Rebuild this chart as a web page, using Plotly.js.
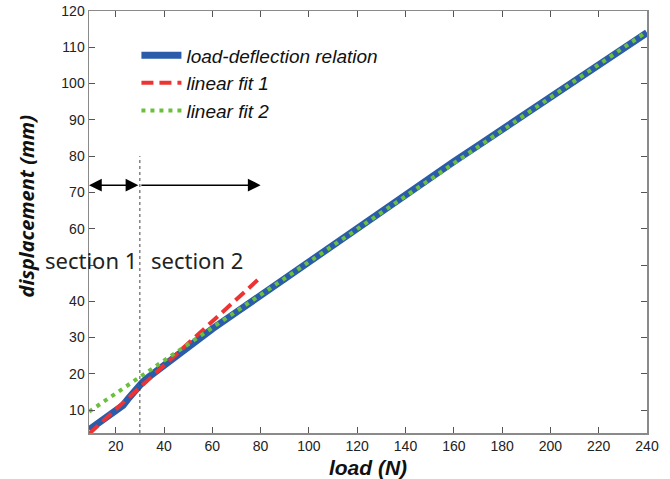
<!DOCTYPE html>
<html>
<head>
<meta charset="utf-8">
<script src="https://cdn.plot.ly/plotly-3.0.1.min.js"></script>
<style>html,body{margin:0;padding:0;background:#fff;}#chart{width:670px;height:479px;}</style>
</head>
<body>
<div id="chart"></div>
<script>
// measured load-deflection data
const loadN = [9, 12, 15, 18, 21, 23, 25, 27, 29, 31, 33, 35, 40, 45, 50, 55, 60, 70, 80, 90, 100, 110, 120, 130, 140, 150, 160, 170, 180, 190, 200, 210, 220, 230, 240];
const dispMM = [4.6, 6.0, 7.3, 8.6, 10.0, 11.3, 13.0, 14.8, 16.3, 17.6, 18.8, 19.8, 22.5, 25.0, 27.6, 30.0, 32.4, 37.0, 41.6, 46.3, 51.2, 55.9, 60.5, 65.0, 69.5, 74.0, 78.5, 82.9, 87.3, 91.7, 96.1, 100.5, 105.0, 109.5, 114.0];
// linear fit 1 (section 1)
const fit1X = [9, 80];
const fit1Y = [3.5, 46.6];
// linear fit 2 (section 2)
const fit2X = [9, 240];
const fit2Y = [9.6, 114.3];
// section boundary & arrow positions
const boundaryX = 30;
const boundaryTop = 80;
const arrowY = 72;
const arrowEnd = 80;
const xTicks = [20, 40, 60, 80, 100, 120, 140, 160, 180, 200, 220, 240];
const yTicks = [10, 20, 30, 40, 50, 60, 70, 80, 90, 100, 110, 120];
// the "50" label is covered by the "section 1" text in the original
const yTickText = ['10', '20', '30', '40', '', '60', '70', '80', '90', '100', '110', '120'];
const xRange = [8.94, 240];
const yRange = [3.7, 120];

const traces = [
  {x: loadN, y: dispMM, mode: 'lines', name: 'load-deflection relation',
   line: {color: '#2a5caa', width: 7}},
  {x: fit1X, y: fit1Y, mode: 'lines', name: 'linear fit 1',
   line: {color: '#ee3333', width: 4, dash: '12px,6px'}},
  {x: fit2X, y: fit2Y, mode: 'lines', name: 'linear fit 2',
   line: {color: '#6abf3c', width: 4, dash: '4px,5px'}}
];

const axisCommon = {
  showgrid: false, zeroline: false, showline: true, linecolor: '#8a8a8a', linewidth: 1.5,
  mirror: 'ticks', ticks: 'inside', ticklen: 6, tickcolor: '#555', tickwidth: 1,
  tickfont: {family: 'Liberation Sans, Arial, sans-serif', size: 14, color: '#222'}
};

const layout = {
  width: 670, height: 479,
  margin: {l: 89, r: 23, t: 11, b: 46},
  paper_bgcolor: '#fff', plot_bgcolor: '#fff',
  showlegend: true,
  legend: {x: 0.085, y: 0.94, xanchor: 'left', yanchor: 'top', bgcolor: 'rgba(0,0,0,0)',
           font: {family: 'Liberation Sans, Arial, sans-serif', size: 19, color: '#111', style: 'italic'},
           tracegroupgap: 0, itemwidth: 40},
  xaxis: Object.assign({}, axisCommon, {range: xRange, tickvals: xTicks,
    title: {text: '<b><i>load (N)</i></b>', font: {family: 'Liberation Sans, Arial, sans-serif', size: 21, color: '#111'}, standoff: 8}}),
  yaxis: Object.assign({}, axisCommon, {range: yRange, tickvals: yTicks, ticktext: yTickText}),
  shapes: [
    {type: 'line', xref: 'x', yref: 'y', x0: boundaryX, x1: boundaryX, y0: yRange[0], y1: boundaryTop,
     line: {color: '#444', width: 1, dash: 'dot'}}
  ],
  annotations: [
    {xref: 'paper', yref: 'paper', x: -0.112, y: 0.538, xanchor: 'center', yanchor: 'middle', textangle: -90,
     showarrow: false, text: '<b><i>displacement (mm)</i></b>',
     font: {family: 'Noto Sans, sans-serif', size: 20, color: '#111'}},
    {xref: 'x', yref: 'y', x: xRange[0], y: arrowY, ax: boundaryX, ay: arrowY, axref: 'x', ayref: 'y',
     showarrow: true, arrowhead: 2, startarrowhead: 2, arrowside: 'end+start', arrowsize: 1.7, arrowwidth: 1.5, arrowcolor: '#000', text: ''},
    {xref: 'x', yref: 'y', x: arrowEnd, y: arrowY, ax: boundaryX, ay: arrowY, axref: 'x', ayref: 'y',
     showarrow: true, arrowhead: 2, arrowsize: 1.7, arrowwidth: 1.5, arrowcolor: '#000', text: ''},
    {xref: 'x', yref: 'paper', x: 29.6, y: 0.41, xanchor: 'right', yanchor: 'middle', showarrow: false,
     text: 'section 1', font: {family: 'Noto Sans, sans-serif', size: 22, color: '#222'}},
    {xref: 'x', yref: 'paper', x: 33.8, y: 0.41, xanchor: 'left', yanchor: 'middle', showarrow: false,
     text: 'section 2', font: {family: 'Noto Sans, sans-serif', size: 22, color: '#222'}}
  ]
};

Plotly.newPlot('chart', traces, layout, {displayModeBar: false, staticPlot: true});
</script>
</body>
</html>
